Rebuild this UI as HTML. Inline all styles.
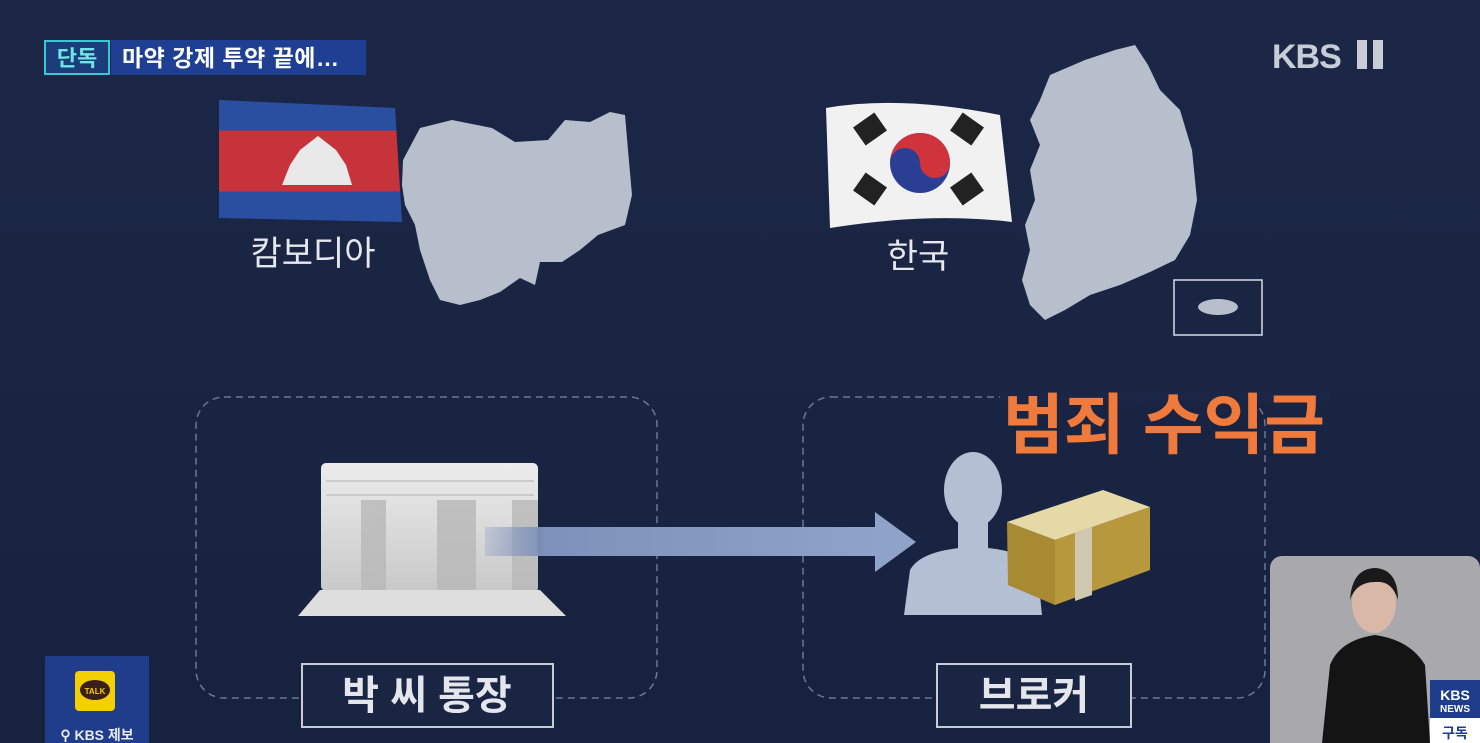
<!DOCTYPE html>
<html><head><meta charset="utf-8"><style>
html,body{margin:0;padding:0}
body{width:1480px;height:743px;background:#1a2646;position:relative;overflow:hidden;font-family:"Liberation Sans","Noto Sans CJK KR",sans-serif}
.a{position:absolute}
</style></head><body>
<svg class="a" style="left:0;top:0" width="1480" height="743">
<defs>
<linearGradient id="bg" x1="0" y1="0" x2="0" y2="1"><stop offset="0" stop-color="#1c2747"/><stop offset="1" stop-color="#17223f"/></linearGradient>
<linearGradient id="arr" x1="0" x2="1"><stop offset="0" stop-color="#8a9bc0" stop-opacity="0.3"/><stop offset="0.15" stop-color="#7e91ba"/><stop offset="1" stop-color="#8fa3c8"/></linearGradient>
<linearGradient id="kh" x1="0" y1="0" x2="0" y2="1"><stop offset="0" stop-color="#2a4fa0"/><stop offset="0.25" stop-color="#2a4fa0"/><stop offset="0.25" stop-color="#c7333a"/><stop offset="0.75" stop-color="#c7333a"/><stop offset="0.75" stop-color="#2a4fa0"/><stop offset="1" stop-color="#2a4fa0"/></linearGradient>
<linearGradient id="book" x1="0" y1="0" x2="0" y2="1"><stop offset="0" stop-color="#ececec"/><stop offset="1" stop-color="#c9c9c9"/></linearGradient>
</defs>
<rect width="1480" height="743" fill="url(#bg)"/>
<rect x="45" y="41" width="64" height="33" fill="#1b3e7a" stroke="#3cc8d2" stroke-width="2"/>
<rect x="111" y="40" width="255" height="35" fill="#1f3f92"/>
<text x="77" y="66" fill="#6fe6e6" font-size="22" font-weight="bold" text-anchor="middle">단독</text>
<text x="122" y="66" fill="#fff" font-size="23" font-weight="bold" letter-spacing="0.5">마약 강제 투약 끝에…</text>
<text x="1272" y="68" fill="#c8ccd6" font-size="34" font-weight="bold" letter-spacing="-1">KBS</text>
<rect x="1357" y="40" width="10" height="29" fill="#c8ccd6"/><rect x="1373" y="40" width="10" height="29" fill="#c8ccd6"/>
<path d="M219 100 L395 108 L402 222 L219 218 Z" fill="url(#kh)"/>
<path d="M282 185 L352 185 L346 165 L336 150 L318 136 L300 150 L290 165 Z" fill="#e9e9e9"/>
<path d="M403 160 L420 128 L452 120 L492 128 L515 142 L548 140 L565 120 L590 122 L610 112 L625 115 L628 150 L632 195 L625 225 L598 235 L580 250 L562 262 L540 262 L535 285 L520 278 L500 292 L480 300 L460 305 L440 300 L430 280 L420 250 L415 225 L405 205 L402 185 Z" fill="#b7bfcc"/>
<text x="313" y="265" fill="#e6e8ee" font-size="34" text-anchor="middle">캄보디아</text>
<path d="M826 108 Q900 95 1000 115 L1012 222 Q930 212 830 228 Z" fill="#f1f1f1"/>
<circle cx="920" cy="163" r="30" fill="#2a3f94"/>
<path d="M890 163 A30 30 0 0 1 950 163 A15 15 0 0 1 920 163 A15 15 0 0 0 890 163Z" fill="#d0333c"/>
<g fill="#222"><rect x="857" y="118" width="26" height="22" transform="rotate(-35 870 129)"/><rect x="954" y="118" width="26" height="22" transform="rotate(35 967 129)"/><rect x="857" y="178" width="26" height="22" transform="rotate(35 870 189)"/><rect x="954" y="178" width="26" height="22" transform="rotate(-35 967 189)"/></g>
<path d="M1050 75 L1085 60 L1115 50 L1135 45 L1148 65 L1160 90 L1180 110 L1192 150 L1197 200 L1190 235 L1175 260 L1150 272 L1120 285 L1090 295 L1065 310 L1045 320 L1030 305 L1022 280 L1030 250 L1025 225 L1035 200 L1030 170 L1040 145 L1030 120 L1040 100 Z" fill="#b7bfcc"/>
<rect x="1174" y="280" width="88" height="55" fill="none" stroke="#d8dce4" stroke-width="1.5"/>
<ellipse cx="1218" cy="307" rx="20" ry="8" fill="#b7bfcc"/>
<text x="918" y="268" fill="#e6e8ee" font-size="34" text-anchor="middle">한국</text>
<rect x="196" y="397" width="461" height="301" rx="28" fill="none" stroke="#6c7794" stroke-width="1.5" stroke-dasharray="7 5"/>
<rect x="803" y="397" width="462" height="301" rx="28" fill="none" stroke="#6c7794" stroke-width="1.5" stroke-dasharray="7 5"/>
<rect x="321" y="463" width="217" height="128" rx="5" fill="url(#book)"/>
<g fill="#b8b8b8" opacity="0.8"><rect x="361" y="500" width="25" height="91"/><rect x="437" y="500" width="39" height="91"/><rect x="512" y="500" width="26" height="91"/></g>
<line x1="326" y1="481" x2="534" y2="481" stroke="#b0b0b0"/><line x1="326" y1="495" x2="534" y2="495" stroke="#b0b0b0"/>
<path d="M320 590 L540 590 L566 616 L298 616 Z" fill="#dedede"/>
<rect x="485" y="527" width="395" height="29" fill="url(#arr)"/>
<path d="M875 512 L916 542 L875 572 Z" fill="#8fa3c8"/>
<g fill="#b3bfd2"><ellipse cx="973" cy="490" rx="29" ry="38"/><rect x="958" y="515" width="30" height="40"/><path d="M910 570 Q920 552 960 548 L988 548 Q1030 552 1038 575 L1042 615 L904 615 Z"/></g>
<path d="M1007 522 L1103 490 L1150 507 L1055 540 Z" fill="#e6d9a8"/>
<path d="M1007 522 L1055 540 L1055 605 L1008 585 Z" fill="#a88a32"/>
<path d="M1055 540 L1150 507 L1150 570 L1055 605 Z" fill="#b8983c"/>
<path d="M1075 533 L1092 527 L1092 595 L1075 601 Z" fill="#cfc7b0"/>
<rect x="1000" y="392" width="330" height="10" fill="#1b2646"/>
<text x="1003" y="448" fill="#f07a3c" font-size="66" font-weight="bold" letter-spacing="0">범죄 수익금</text>
<rect x="302" y="664" width="251" height="63" fill="#1a2544" stroke="#c7cbd4" stroke-width="2"/>
<text x="427" y="709" fill="#e4e6ec" font-size="40" font-weight="bold" text-anchor="middle">박 씨 통장</text>
<rect x="937" y="664" width="194" height="63" fill="#1a2544" stroke="#c7cbd4" stroke-width="2"/>
<text x="1034" y="709" fill="#e4e6ec" font-size="40" font-weight="bold" text-anchor="middle">브로커</text>
<rect x="45" y="656" width="104" height="87" fill="#1f3d8a"/>
<rect x="75" y="671" width="40" height="40" rx="4" fill="#f5d000"/>
<ellipse cx="95" cy="690" rx="15" ry="10" fill="#3a1f1a"/>
<text x="95" y="694" fill="#f5d000" font-size="8" font-weight="bold" text-anchor="middle">TALK</text>
<text x="97" y="740" fill="#e8eaf0" font-size="14" font-weight="bold" text-anchor="middle">⚲ KBS 제보</text>
<rect x="1270" y="556" width="210" height="200" rx="12" fill="#a9a9ad"/>
<path d="M1322 743 L1330 665 Q1340 640 1375 635 Q1410 640 1425 665 L1430 743 Z" fill="#141414"/>
<ellipse cx="1374" cy="603" rx="22" ry="30" fill="#d9b8a8"/>
<path d="M1350 600 Q1352 568 1376 568 Q1398 570 1398 600 Q1392 580 1375 582 Q1356 582 1350 600Z" fill="#1a1a1a"/>
<rect x="1430" y="680" width="50" height="63" fill="#1f3d8a"/>
<text x="1455" y="700" fill="#fff" font-size="14" font-weight="bold" text-anchor="middle">KBS</text>
<text x="1455" y="712" fill="#fff" font-size="10" font-weight="bold" text-anchor="middle">NEWS</text>
<rect x="1430" y="718" width="50" height="25" fill="#fff"/>
<text x="1455" y="738" fill="#1f3d8a" font-size="14" font-weight="bold" text-anchor="middle">구독</text>
</svg>
</body></html>
